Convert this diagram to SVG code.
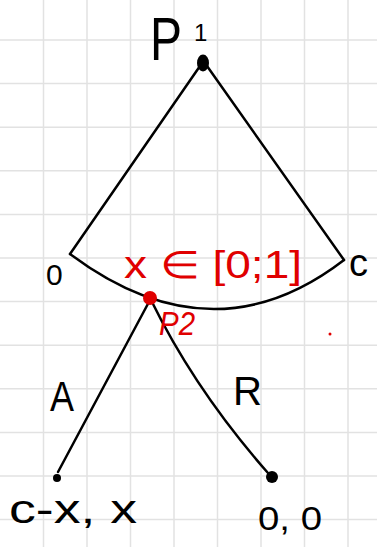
<svg xmlns="http://www.w3.org/2000/svg" width="377" height="547" viewBox="0 0 377 547">
<style>
.grid line{stroke:#e2e2e2;stroke-width:1.5}
.edge{fill:none;stroke:#000;stroke-width:2.5;stroke-linecap:round}
.lbl{font-family:"Liberation Sans",Arial,sans-serif;fill:#000}
.red{fill:#e00000}
</style>
<rect width="377" height="547" fill="#fff"/>
<g class="grid">
<line x1="43.5" y1="0" x2="43.5" y2="547"/><line x1="87" y1="0" x2="87" y2="547"/><line x1="130.5" y1="0" x2="130.5" y2="547"/><line x1="174" y1="0" x2="174" y2="547"/><line x1="217.5" y1="0" x2="217.5" y2="547"/><line x1="261" y1="0" x2="261" y2="547"/><line x1="304.5" y1="0" x2="304.5" y2="547"/><line x1="348" y1="0" x2="348" y2="547"/>
<line x1="0" y1="40" x2="377" y2="40"/><line x1="0" y1="83.6" x2="377" y2="83.6"/><line x1="0" y1="127.2" x2="377" y2="127.2"/><line x1="0" y1="170.8" x2="377" y2="170.8"/><line x1="0" y1="214.4" x2="377" y2="214.4"/><line x1="0" y1="258" x2="377" y2="258"/><line x1="0" y1="301.6" x2="377" y2="301.6"/><line x1="0" y1="345.2" x2="377" y2="345.2"/><line x1="0" y1="388.8" x2="377" y2="388.8"/><line x1="0" y1="432.4" x2="377" y2="432.4"/><line x1="0" y1="476" x2="377" y2="476"/><line x1="0" y1="519.6" x2="377" y2="519.6"/>
</g>
<g id="connectors">
<path class="edge" d="M200,66 L70,254"/>
<path class="edge" d="M207,66 L344,260"/>
<path class="edge" d="M70,254 Q213,361 344,260"/>
<path class="edge" d="M150,300 L58,472"/>
<path class="edge" d="M151,300 Q195,390 268,473"/>
</g>
<g id="node-p1">
<ellipse cx="203" cy="63" rx="6" ry="8.5" fill="#000"/>
<text class="lbl" x="150" y="60" font-size="62" textLength="32" lengthAdjust="spacingAndGlyphs">P</text>
<text class="lbl" x="194" y="41" font-size="24">1</text>
</g>
<g id="node-p2">
<circle cx="150" cy="298" r="7" class="red"/>
<text class="lbl red" x="159" y="335" font-size="34" font-style="italic" textLength="36" lengthAdjust="spacingAndGlyphs">P2</text>
</g>
<g id="label-range">
<text class="lbl red" x="124" y="278" font-size="38" textLength="178" lengthAdjust="spacingAndGlyphs">x ∈ [0;1]</text>
<circle cx="330" cy="334" r="1.5" class="red"/>
</g>
<g id="label-0"><text class="lbl" x="46" y="285" font-size="30">0</text></g>
<g id="label-c"><text class="lbl" x="349" y="276" font-size="38">c</text></g>
<g id="label-A"><text class="lbl" x="50" y="411" font-size="42" textLength="24" lengthAdjust="spacingAndGlyphs">A</text></g>
<g id="label-R"><text class="lbl" x="233" y="405" font-size="40" textLength="29" lengthAdjust="spacingAndGlyphs">R</text></g>
<g id="leaf-left">
<circle cx="57" cy="478" r="4" fill="#000"/>
<text class="lbl" x="9" y="523" font-size="40" textLength="128" lengthAdjust="spacingAndGlyphs">c-x, x</text>
</g>
<g id="leaf-right">
<circle cx="272" cy="477" r="6" fill="#000"/>
<text class="lbl" x="258" y="530" font-size="34" textLength="64" lengthAdjust="spacingAndGlyphs">0, 0</text>
</g>
</svg>
